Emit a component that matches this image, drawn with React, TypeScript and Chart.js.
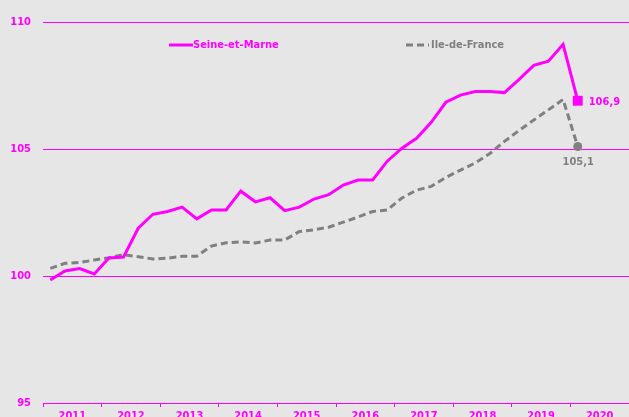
import React, { useEffect, useRef } from "react";
import { Chart, registerables } from "chart.js";

Chart.register(...registerables);

const years = ["2011", "2012", "2013", "2014", "2015", "2016", "2017", "2018", "2019", "2020"];

const seineEtMarne = [
  99.84, 100.2, 100.29, 100.08,
  100.71, 100.75, 101.88, 102.43,
  102.54, 102.71, 102.25, 102.6,
  102.6, 103.34, 102.92, 103.08,
  102.57, 102.71, 103.03, 103.2,
  103.58, 103.78, 103.78, 104.52,
  105.03, 105.42, 106.05, 106.84,
  107.12, 107.26, 107.26, 107.22,
  107.74, 108.29, 108.46, 109.12,
  106.9,
];

const ileDeFrance = [
  100.3, 100.5, 100.53, 100.63,
  100.72, 100.84, 100.76, 100.67,
  100.7, 100.78, 100.78, 101.18,
  101.31, 101.34, 101.3, 101.42,
  101.42, 101.75, 101.82, 101.92,
  102.12, 102.32, 102.54, 102.6,
  103.07, 103.38, 103.53, 103.88,
  104.17, 104.45, 104.82, 105.3,
  105.73, 106.14, 106.54, 106.95,
  105.1,
];

const seriesNames = ["Seine-et-Marne", "Ile-de-France"];
const lastLabels = ["106,9", "105,1"];

const PINK = "#FF00FF";
const GRAY = "#808080";
const FONT = "'DejaVu Sans Condensed', 'DejaVu Sans', sans-serif";

const toPoints = (arr: number[]) => arr.map((v, i) => ({ x: i + 0.5, y: v }));
const lastOnly = (arr: number[], r: number) => arr.map((_, i) => (i === arr.length - 1 ? r : 0));

const overlayPlugin = {
  id: "overlay",
  afterDatasetsDraw(chart: any) {
    const ctx = chart.ctx;
    ctx.save();
    // end labels
    const m0 = chart.getDatasetMeta(0);
    const p0 = m0.data[m0.data.length - 1];
    ctx.font = `bold 11px ${FONT}`;
    ctx.fillStyle = PINK;
    ctx.textAlign = "left";
    ctx.textBaseline = "middle";
    ctx.fillText(lastLabels[0], p0.x + 11, p0.y + 1);
    const m1 = chart.getDatasetMeta(1);
    const p1 = m1.data[m1.data.length - 1];
    ctx.fillStyle = GRAY;
    ctx.textAlign = "center";
    ctx.fillText(lastLabels[1], p1.x + 0.5, p1.y + 15.5);

    // legend
    const ly = 45;
    ctx.lineWidth = 3;
    ctx.strokeStyle = PINK;
    ctx.setLineDash([]);
    ctx.beginPath();
    ctx.moveTo(169, ly);
    ctx.lineTo(193, ly);
    ctx.stroke();
    ctx.fillStyle = PINK;
    ctx.textAlign = "left";
    ctx.fillText(seriesNames[0], 193, ly);

    ctx.strokeStyle = GRAY;
    ctx.setLineDash([7, 4]);
    ctx.beginPath();
    ctx.moveTo(406, ly);
    ctx.lineTo(429, ly);
    ctx.stroke();
    ctx.setLineDash([]);
    ctx.fillStyle = GRAY;
    ctx.fillText(seriesNames[1], 431, ly);
    ctx.restore();
  },
};

export default function App() {
  const ref = useRef<HTMLCanvasElement>(null);

  useEffect(() => {
    const canvas = ref.current;
    if (!canvas) return;
    const chart = new Chart(canvas, {
      type: "line",
      data: {
        datasets: [
          {
            label: seriesNames[0],
            data: toPoints(seineEtMarne),
            borderColor: PINK,
            backgroundColor: PINK,
            borderWidth: 3,
            tension: 0,
            pointStyle: "rect",
            pointRadius: lastOnly(seineEtMarne, 7),
            pointHoverRadius: 0,
            pointBorderWidth: 0,
            pointBackgroundColor: PINK,
          },
          {
            label: seriesNames[1],
            data: toPoints(ileDeFrance),
            borderColor: GRAY,
            backgroundColor: GRAY,
            borderWidth: 3,
            borderDash: [7, 4],
            tension: 0,
            pointStyle: "circle",
            pointRadius: lastOnly(ileDeFrance, 4.5),
            pointHoverRadius: 0,
            pointBorderWidth: 0,
            pointBackgroundColor: GRAY,
          },
        ],
      },
      options: {
        animation: false,
        responsive: false,
        devicePixelRatio: 1,
        events: [],
        layout: { autoPadding: false, padding: { top: 22, left: 0, right: 0, bottom: 0 } },
        plugins: {
          legend: { display: false },
          tooltip: { enabled: false },
        },
        scales: {
          x: {
            type: "linear",
            min: 0,
            max: years.length * 4,
            afterFit: (s: any) => {
              s.height = 21;
              s.paddingRight = 0;
              s.paddingLeft = 0;
            },
            ticks: {
              stepSize: 2,
              autoSkip: false,
              maxRotation: 0,
              padding: 3,
              color: PINK,
              font: { family: FONT, size: 11, weight: "bold" },
              callback: (v: any) => {
                const n = Number(v);
                return n % 4 === 2 ? years[(n - 2) / 4] : "";
              },
            },
            grid: {
              drawOnChartArea: false,
              drawTicks: true,
              tickLength: 4,
              color: (c: any) => (c.tick && c.tick.value % 4 === 0 ? PINK : "rgba(0,0,0,0)"),
            },
            border: { display: true, color: PINK, width: 1 },
          },
          y: {
            min: 95,
            max: 110,
            afterFit: (s: any) => {
              s.width = 43;
            },
            ticks: {
              stepSize: 5,
              padding: 12,
              color: PINK,
              font: { family: FONT, size: 11, weight: "bold" },
            },
            grid: { color: PINK, lineWidth: 1, drawTicks: false },
            border: { display: false },
          },
        },
      },
      plugins: [overlayPlugin],
    } as any);
    return () => chart.destroy();
  }, []);

  return (
    <div
      style={{
        position: "fixed",
        left: 0,
        top: 0,
        width: 629,
        height: 417,
        overflow: "hidden",
        background: "#E6E6E6",
      }}
    >
      <canvas ref={ref} width={629} height={424} style={{ display: "block" }} />
    </div>
  );
}
